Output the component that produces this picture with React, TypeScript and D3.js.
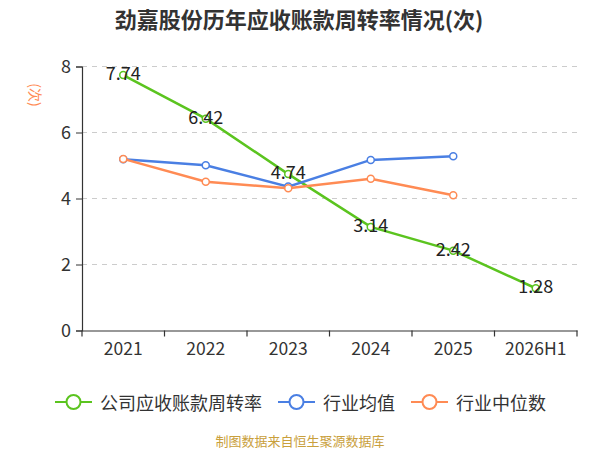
import {useEffect, useRef} from "react";
import * as d3 from "d3";

const SvgWidth = 600;
const SvgHeight = 450;

const years = ["2021", "2022", "2023", "2024", "2025", "2026H1"];
const companyRate = [7.74, 6.42, 4.74, 3.14, 2.42, 1.28];
const industryAvg = [5.19, 5.01, 4.36, 5.17, 5.28];
const industryMedian = [5.2, 4.51, 4.31, 4.6, 4.1];
const yTicks = [0, 2, 4, 6, 8];

const greenColor = "#5bc41f";
const blueColor = "#4a7fe3";
const orangeColor = "#ff8b54";

const legendItems = [
    {name: "公司应收账款周转率", color: greenColor, x: 55},
    {name: "行业均值", color: blueColor, x: 278},
    {name: "行业中位数", color: orangeColor, x: 411},
];

const fontFamily = "'Noto Sans CJK SC', 'Noto Sans', sans-serif";

function App() {
    const xAxisRef = useRef(null);
    const yAxisRef = useRef(null);

    const left = 82;
    const right = 577;
    const top = 66.5;
    const bottom = 330.5;

    const xScale = d3.scaleBand()
        .domain(years)
        .range([left, right]);

    const yScale = d3.scaleLinear()
        .domain([0, 8])
        .range([bottom, top]);

    const cx = (i) => xScale(years[i]) + xScale.bandwidth() / 2;

    const line = d3.line()
        // @ts-ignore
        .x((d, i) => cx(i))
        // @ts-ignore
        .y((d) => yScale(d));

    useEffect(() => {
        let xAxisElm = d3.select(xAxisRef.current);
        let yAxisElm = d3.select(yAxisRef.current);

        if (xAxisElm) {
            xAxisElm.call(d3.axisBottom(xScale).tickSize(0).tickPadding(12));
            xAxisElm.select(".domain").attr("stroke", "#333").attr("stroke-width", 1.2);
            xAxisElm.selectAll("text")
                .attr("font-size", 17.5)
                .attr("fill", "#333")
                .attr("font-family", fontFamily);
            // boundary ticks between categories
            xAxisElm.selectAll(".bound").remove();
            const bounds = years.map((y) => xScale(y)).concat([right]);
            xAxisElm.selectAll(".bound")
                .data(bounds)
                .enter()
                .append("line")
                .attr("class", "bound")
                .attr("x1", (d) => d)
                .attr("x2", (d) => d)
                .attr("y1", 0)
                .attr("y2", 6)
                .attr("stroke", "#333")
                .attr("stroke-width", 1.2);
        }

        if (yAxisElm) {
            yAxisElm.call(d3.axisLeft(yScale).tickValues(yTicks).tickSize(6).tickPadding(5).tickFormat(d3.format("d")));
            yAxisElm.select(".domain").attr("stroke", "#333").attr("stroke-width", 1.2);
            yAxisElm.selectAll("line").attr("stroke", "#333");
            yAxisElm.selectAll("text")
                .attr("font-size", 18)
                .attr("fill", "#333")
                .attr("font-family", fontFamily);
        }
    }, [xScale, yScale]);

    return (
        <div style={{position: "fixed", left: 0, top: 0}}>
            <svg width={SvgWidth} height={SvgHeight} fontFamily={fontFamily}>
                <rect width={SvgWidth} height={SvgHeight} fill="#fff"/>
                <text x={299} y={28} textAnchor="middle" fontSize={22} fontWeight="bold" fill="#333">
                    劲嘉股份历年应收账款周转率情况(次)
                </text>

                <text
                    transform={"translate(34, 95) rotate(90)"}
                    textAnchor="middle"
                    dominantBaseline="middle"
                    fontSize={14}
                    fill={orangeColor}
                >
                    (次)
                </text>

                {yTicks.filter((t) => t > 0).map((t) => (
                    <line
                        key={t}
                        x1={left}
                        x2={right}
                        y1={yScale(t)}
                        y2={yScale(t)}
                        stroke="#cccccc"
                        strokeDasharray="5,5"
                    />
                ))}

                <g ref={xAxisRef} transform={`translate(0,${bottom})`}></g>
                <g ref={yAxisRef} transform={`translate(${left},0)`}></g>

                {[
                    {data: companyRate, color: greenColor},
                    {data: industryAvg, color: blueColor},
                    {data: industryMedian, color: orangeColor},
                ].map((s, k) => (
                    <g key={k}>
                        <path
                            // @ts-ignore
                            d={line(s.data)}
                            fill="none"
                            stroke={s.color}
                            strokeWidth={2.5}
                        />
                        {s.data.map((v, i) => (
                            <circle
                                key={i}
                                cx={cx(i)}
                                cy={yScale(v)}
                                r={3.5}
                                fill="#fff"
                                stroke={s.color}
                                strokeWidth={1.5}
                            />
                        ))}
                    </g>
                ))}

                {companyRate.map((v, i) => (
                    <text
                        key={i}
                        x={cx(i)}
                        y={yScale(v) + 5}
                        textAnchor="middle"
                        fontSize={18}
                        fill="#222"
                    >
                        {v.toFixed(2)}
                    </text>
                ))}

                {legendItems.map((item) => (
                    <g key={item.name} transform={`translate(${item.x}, 402)`}>
                        <line x1={0} x2={37} y1={0} y2={0} stroke={item.color} strokeWidth={2}/>
                        <circle cx={18.5} cy={0} r={7} fill="#fff" stroke={item.color} strokeWidth={2}/>
                        <text x={45} y={0} dominantBaseline="central" fontSize={18} fill="#333">
                            {item.name}
                        </text>
                    </g>
                ))}

                <text x={300} y={446} textAnchor="middle" fontSize={13} fill="#c9a03c">
                    制图数据来自恒生聚源数据库
                </text>
            </svg>
        </div>
    );
}

export default App;
